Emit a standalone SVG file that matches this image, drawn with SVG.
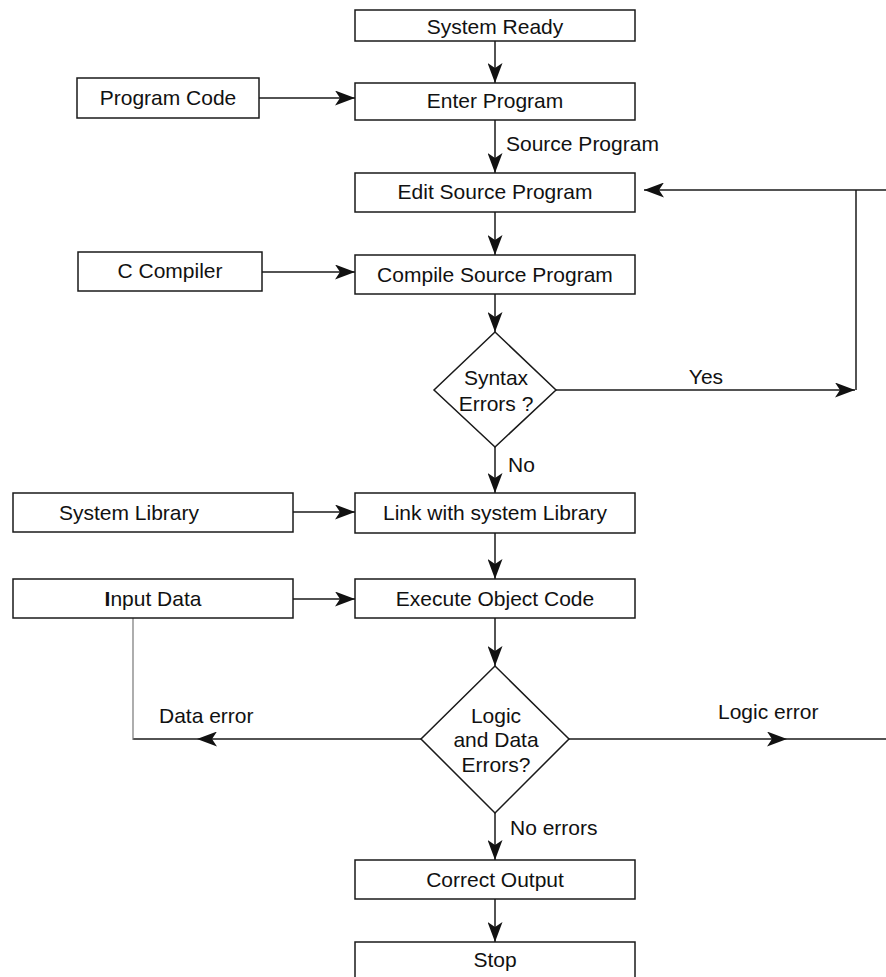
<svg xmlns="http://www.w3.org/2000/svg" width="886" height="977" viewBox="0 0 886 977">
<style>
.box{fill:#fff;stroke:#1a1a1a;stroke-width:1.5}
.t{font-family:"Liberation Sans",Arial,sans-serif;font-size:21px;fill:#111;text-anchor:middle}
.l{font-family:"Liberation Sans",Arial,sans-serif;font-size:21px;fill:#111}
.c{fill:none;stroke:#1a1a1a;stroke-width:1.5}
.g{fill:none;stroke:#777;stroke-width:1.2}
</style>
<defs>
<marker id="ah" markerUnits="userSpaceOnUse" markerWidth="20" markerHeight="15" refX="20" refY="7.5" orient="auto">
<path d="M0,0 L20,7.5 L0,15 L5,7.5 z" fill="#111"/>
</marker>
</defs>
<rect width="886" height="977" fill="#fff"/>
<g id="connectors">
<line class="c" x1="495" y1="41" x2="495" y2="83" marker-end="url(#ah)"/>
<line class="c" x1="495" y1="120" x2="495" y2="173" marker-end="url(#ah)"/>
<line class="c" x1="495" y1="212" x2="495" y2="255" marker-end="url(#ah)"/>
<line class="c" x1="495" y1="294" x2="495" y2="332" marker-end="url(#ah)"/>
<line class="c" x1="495" y1="447" x2="495" y2="493" marker-end="url(#ah)"/>
<line class="c" x1="495" y1="533" x2="495" y2="579" marker-end="url(#ah)"/>
<line class="c" x1="495" y1="618" x2="495" y2="666" marker-end="url(#ah)"/>
<line class="c" x1="495" y1="813" x2="495" y2="860" marker-end="url(#ah)"/>
<line class="c" x1="495" y1="899" x2="495" y2="942" marker-end="url(#ah)"/>
<line class="c" x1="259" y1="98" x2="355" y2="98" marker-end="url(#ah)"/>
<line class="c" x1="262" y1="272" x2="355" y2="272" marker-end="url(#ah)"/>
<line class="c" x1="293" y1="512" x2="355" y2="512" marker-end="url(#ah)"/>
<line class="c" x1="293" y1="599" x2="355" y2="599" marker-end="url(#ah)"/>
<line class="c" x1="556" y1="390" x2="855" y2="390" marker-end="url(#ah)"/>
<line class="c" x1="856" y1="190" x2="856" y2="390"/>
<line class="c" x1="886" y1="190" x2="644" y2="190" marker-end="url(#ah)"/>
<line class="c" x1="569" y1="739" x2="787" y2="739" marker-end="url(#ah)"/>
<line class="c" x1="787" y1="739" x2="886" y2="739"/>
<line class="c" x1="421" y1="739" x2="197" y2="739" marker-end="url(#ah)"/>
<line class="c" x1="197" y1="739" x2="133" y2="739" stroke-width="2.2"/>
<line class="g" x1="133" y1="618" x2="133" y2="740"/>
<text class="l" x="506" y="151">Source Program</text>
<text class="t" x="706" y="384">Yes</text>
<text class="l" x="508" y="472">No</text>
<text class="l" x="159" y="723">Data error</text>
<text class="l" x="718" y="719">Logic error</text>
<text class="l" x="510" y="835">No errors</text>
</g>
<g id="system-ready"><rect class="box" x="355" y="10" width="280" height="31"/><text class="t" x="495" y="34">System Ready</text></g>
<g id="program-code"><rect class="box" x="77" y="78" width="182" height="40"/><text class="t" x="168" y="105">Program Code</text></g>
<g id="enter-program"><rect class="box" x="355" y="83" width="280" height="37"/><text class="t" x="495" y="108">Enter Program</text></g>
<g id="edit-source"><rect class="box" x="355" y="173" width="280" height="39"/><text class="t" x="495" y="199">Edit Source Program</text></g>
<g id="c-compiler"><rect class="box" x="78" y="252" width="184" height="39"/><text class="t" x="170" y="278">C Compiler</text></g>
<g id="compile-source"><rect class="box" x="355" y="255" width="280" height="39"/><text class="t" x="495" y="282">Compile Source Program</text></g>
<g id="syntax-errors"><polygon class="box" points="495,332 556,390 495,447 434,390"/><text class="t" x="496" y="385">Syntax</text><text class="t" x="496" y="411">Errors ?</text></g>
<g id="system-library"><rect class="box" x="13" y="493" width="280" height="39"/><text class="l" x="59" y="520">System Library</text></g>
<g id="link"><rect class="box" x="355" y="493" width="280" height="40"/><text class="t" x="495" y="520">Link with system Library</text></g>
<g id="input-data"><rect class="box" x="13" y="579" width="280" height="39"/><text class="t" x="153" y="606"><tspan font-weight="bold">I</tspan>nput Data</text></g>
<g id="execute"><rect class="box" x="355" y="579" width="280" height="39"/><text class="t" x="495" y="606">Execute Object Code</text></g>
<g id="logic-data-errors"><polygon class="box" points="495,666 569,739 495,813 421,739"/><text class="t" x="496" y="723">Logic</text><text class="t" x="496" y="747">and Data</text><text class="t" x="496" y="772">Errors?</text></g>
<g id="correct-output"><rect class="box" x="355" y="860" width="280" height="39"/><text class="t" x="495" y="887">Correct Output</text></g>
<g id="stop"><rect class="box" x="355" y="942" width="280" height="36"/><text class="t" x="495" y="967">Stop</text></g>
</svg>
